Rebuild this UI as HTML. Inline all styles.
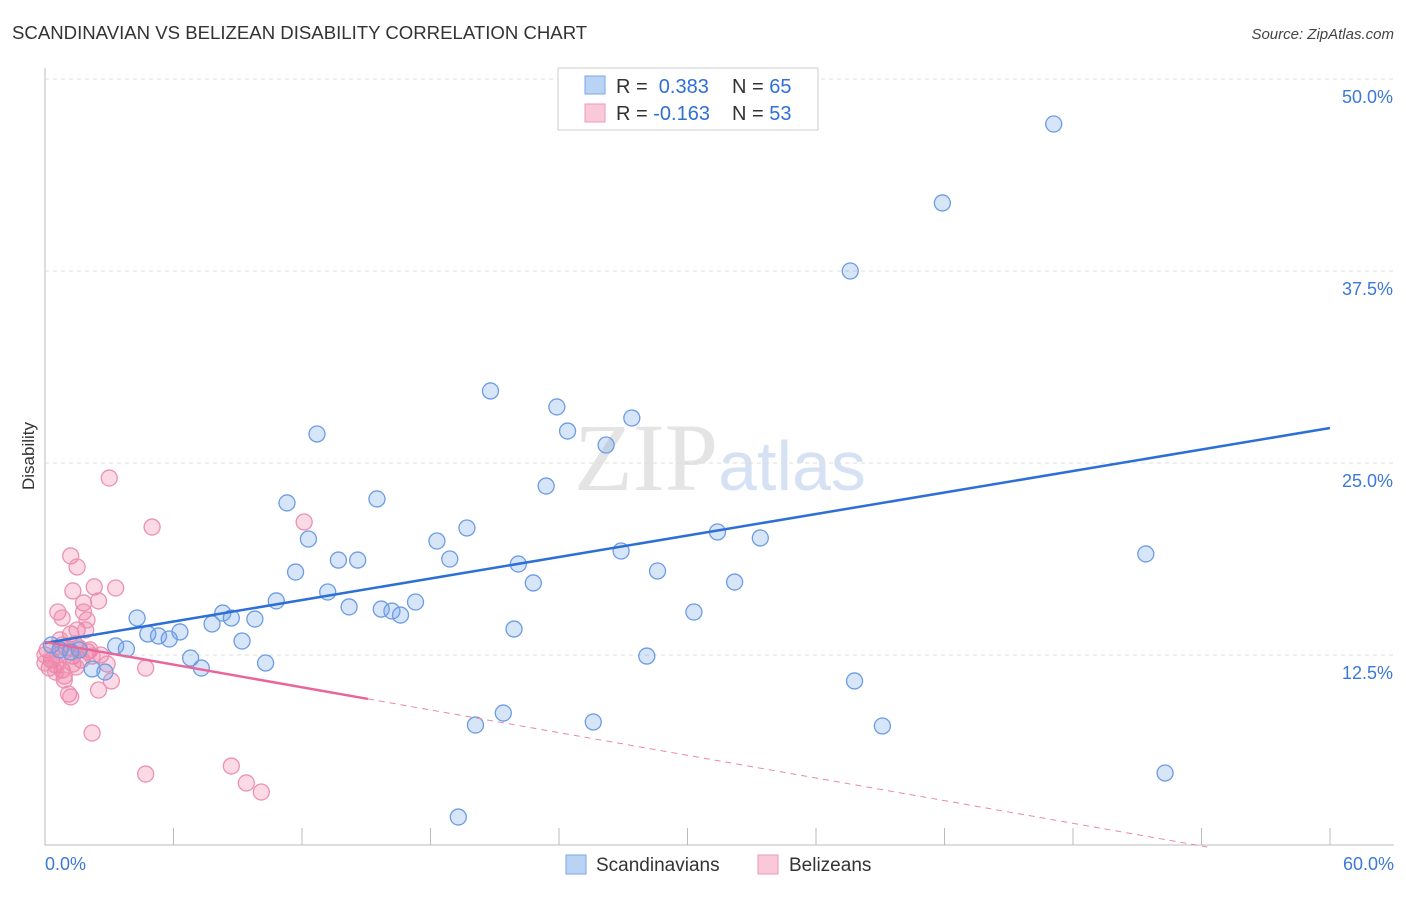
<!DOCTYPE html>
<html><head><meta charset="utf-8"><style>
body{margin:0;background:#fff;font-family:"Liberation Sans",sans-serif}
</style></head><body>
<svg width="1406" height="892" xmlns="http://www.w3.org/2000/svg" id="svg" font-family="Liberation Sans, sans-serif">
<text x="12" y="39" font-size="18.6" fill="#333">SCANDINAVIAN VS BELIZEAN DISABILITY CORRELATION CHART</text>
<text x="1394" y="39" font-size="15" fill="#444" font-style="italic" text-anchor="end">Source: ZipAtlas.com</text>
<text x="34" y="456" font-size="17" fill="#333" transform="rotate(-90 34 456)" text-anchor="middle">Disability</text>
<text x="720" y="490" font-size="96" fill="#e4e4e4" text-anchor="middle" font-family="Liberation Serif, serif">ZIP<tspan fill="#d6e2f4" font-family="Liberation Sans, sans-serif" font-size="70">atlas</tspan></text>
<g id="grid"></g><g id="marks"></g>
<g>
<rect x="558" y="68" width="260" height="62" fill="#fff" stroke="#ccc"/>
<rect x="585" y="76" width="20" height="18" fill="#b9d3f5" stroke="#7aa6e6"/>
<rect x="585" y="104" width="20" height="18" fill="#f9c9d9" stroke="#ee9ab6"/>
<text x="616" y="93" font-size="20" fill="#333">R = <tspan fill="#2f6fd8">&#160;0.383</tspan><tspan x="732">N = </tspan><tspan fill="#2f6fd8">65</tspan></text>
<text x="616" y="120" font-size="20" fill="#333">R = <tspan fill="#2f6fd8">-0.163</tspan><tspan x="732">N = </tspan><tspan fill="#2f6fd8">53</tspan></text>
</g>
<g>
<rect x="566" y="855" width="20" height="19" fill="#b9d3f5" stroke="#7aa6e6"/>
<text x="596" y="871" font-size="19" fill="#333">Scandinavians</text>
<rect x="758" y="855" width="20" height="19" fill="#f9c9d9" stroke="#ee9ab6"/>
<text x="789" y="871" font-size="19" fill="#333">Belizeans</text>
</g>
</svg>
<script>
const xTicks=[0,6,12,18,24,30,36,42,48,54,60];
const yTicks=[12.5,25,37.5,50];
const blueX=[47.1,41.9,37.6,20.8,23.9,27.4,12.7,24.4,26.2,23.4,15.5,11.3,19.7,31.4,12.3,33.4,18.3,26.9,13.7,14.6,18.9,22.1,51.4,11.7,28.6,22.8,32.2,13.2,10.8,17.3,15.7,16.2,14.2,16.6,8.3,8.7,9.8,30.3,4.3,7.8,6.3,4.8,5.3,5.8,21.9,9.2,3.3,3.8,0.3,1.6,6.8,28.1,10.3,7.3,2.2,2.8,37.8,21.4,20.1,25.6,39.1,52.3,19.3,0.7,1.2];
const blueY=[47.07,41.93,37.5,29.69,28.65,27.93,26.89,27.08,26.17,23.5,22.66,22.4,20.77,20.51,20.05,20.12,19.92,19.27,18.68,18.68,18.75,18.42,19.08,17.9,17.97,17.19,17.25,16.6,16.02,15.95,15.49,15.36,15.63,15.1,15.23,14.91,14.84,15.3,14.91,14.52,14.0,13.87,13.74,13.54,14.19,13.41,13.09,12.89,13.15,12.83,12.3,12.43,11.98,11.65,11.59,11.39,10.81,8.72,7.94,8.14,7.88,4.82,1.95,12.83,12.7];
const pinkX=[3.0,5.0,12.1,1.2,1.5,1.3,2.3,3.3,0.6,1.8,2.5,1.8,0.8,1.2,0.1,0.3,0.6,1.0,1.4,2.0,1.6,2.1,0.2,0.5,0.8,1.3,1.7,0.9,1.1,1.2,2.5,3.1,4.7,2.2,4.7,8.7,9.4,10.1,0.7,1.5,0,2.6,1.9,0.9,2.2,0.5,2.9,1.3,0.8,1.96,0,0.65,1.45];
const pinkY=[24.02,20.83,21.16,18.95,18.23,16.67,16.93,16.86,15.3,15.89,16.02,15.3,14.91,13.87,12.83,12.17,12.5,12.96,13.22,12.7,12.96,12.83,11.65,11.85,11.52,12.43,12.17,11.13,9.96,9.77,10.22,10.81,11.65,7.42,4.75,5.27,4.17,3.58,13.48,14.13,12.5,12.5,14.13,10.87,12.43,11.39,11.91,11.91,13.15,14.78,11.98,12.04,11.72];
const blueTrend=[13.28,0.2333];
const pinkTrend=[13.35,-0.246];
const pinkSolidEnd=15.08;
const X0=45,X1=1330,YB=847,YT=79;
const sx=v=>X0+(v-0)/60*(X1-X0);
const sy=v=>YB-(v/50)*(YB-YT);
const NS="http://www.w3.org/2000/svg";
const grid=document.getElementById('grid'),marks=document.getElementById('marks');
function mk(tag,attrs,parent){const e=document.createElementNS(NS,tag);for(const k in attrs)e.setAttribute(k,attrs[k]);parent.appendChild(e);return e;}
let ax=mk('line',{x1:45,y1:68,x2:45,y2:845,stroke:'#bbb'},grid);


let bx=mk('line',{x1:45,y1:845,x2:1394,y2:845,stroke:'#bbb'},grid);


yTicks.forEach(t=>{
 const g=mk('line',{x1:45,x2:1394,y1:sy(t),y2:sy(t),stroke:'#ddd','stroke-dasharray':'4 4'},grid);
 
 
 const l=mk('text',{x:1393,y:sy(t)+24,'font-size':18,fill:'#3b78d8','text-anchor':'end'},grid);
 l.textContent=t.toFixed(1)+'%';
 
 
});
xTicks.forEach(t=>{
 const g=mk('line',{x1:sx(t),x2:sx(t),y1:828,y2:845,stroke:'#bbb'},grid);
 
 
});
[[0,'start',45],[60,'end',1394]].forEach(([t,a,x])=>{
 const l=mk('text',{x:x,y:870,'font-size':18,fill:'#3b78d8','text-anchor':a},grid);
 l.textContent=t.toFixed(1)+'%';
 
 
});
pinkX.forEach((x,i)=>{
 const c=mk('circle',{cx:sx(x),cy:sy(pinkY[i]),r:8,fill:'rgba(240,120,160,0.28)',stroke:'#ec92b0','stroke-width':1.3},marks);
 
 
});
blueX.forEach((x,i)=>{
 const c=mk('circle',{cx:sx(x),cy:sy(blueY[i]),r:8,fill:'rgba(110,160,230,0.28)',stroke:'#6c9ce4','stroke-width':1.3},marks);
 
 
});
let bl=mk('line',{x1:sx(0),y1:sy(blueTrend[0]),x2:sx(60),y2:sy(blueTrend[0]+60*blueTrend[1]),stroke:'#2c6fd6','stroke-width':2.5},marks);


const pz=-pinkTrend[0]/pinkTrend[1];
let pd=mk('line',{x1:sx(pinkSolidEnd),y1:sy(pinkTrend[0]+pinkSolidEnd*pinkTrend[1]),x2:sx(pz),y2:sy(0),stroke:'#e889a8','stroke-width':1,'stroke-dasharray':'6 5'},marks);


let pl=mk('line',{x1:sx(0),y1:sy(pinkTrend[0]),x2:sx(pinkSolidEnd),y2:sy(pinkTrend[0]+pinkSolidEnd*pinkTrend[1]),stroke:'#e8669a','stroke-width':2.5},marks);


</script>
</body></html>
